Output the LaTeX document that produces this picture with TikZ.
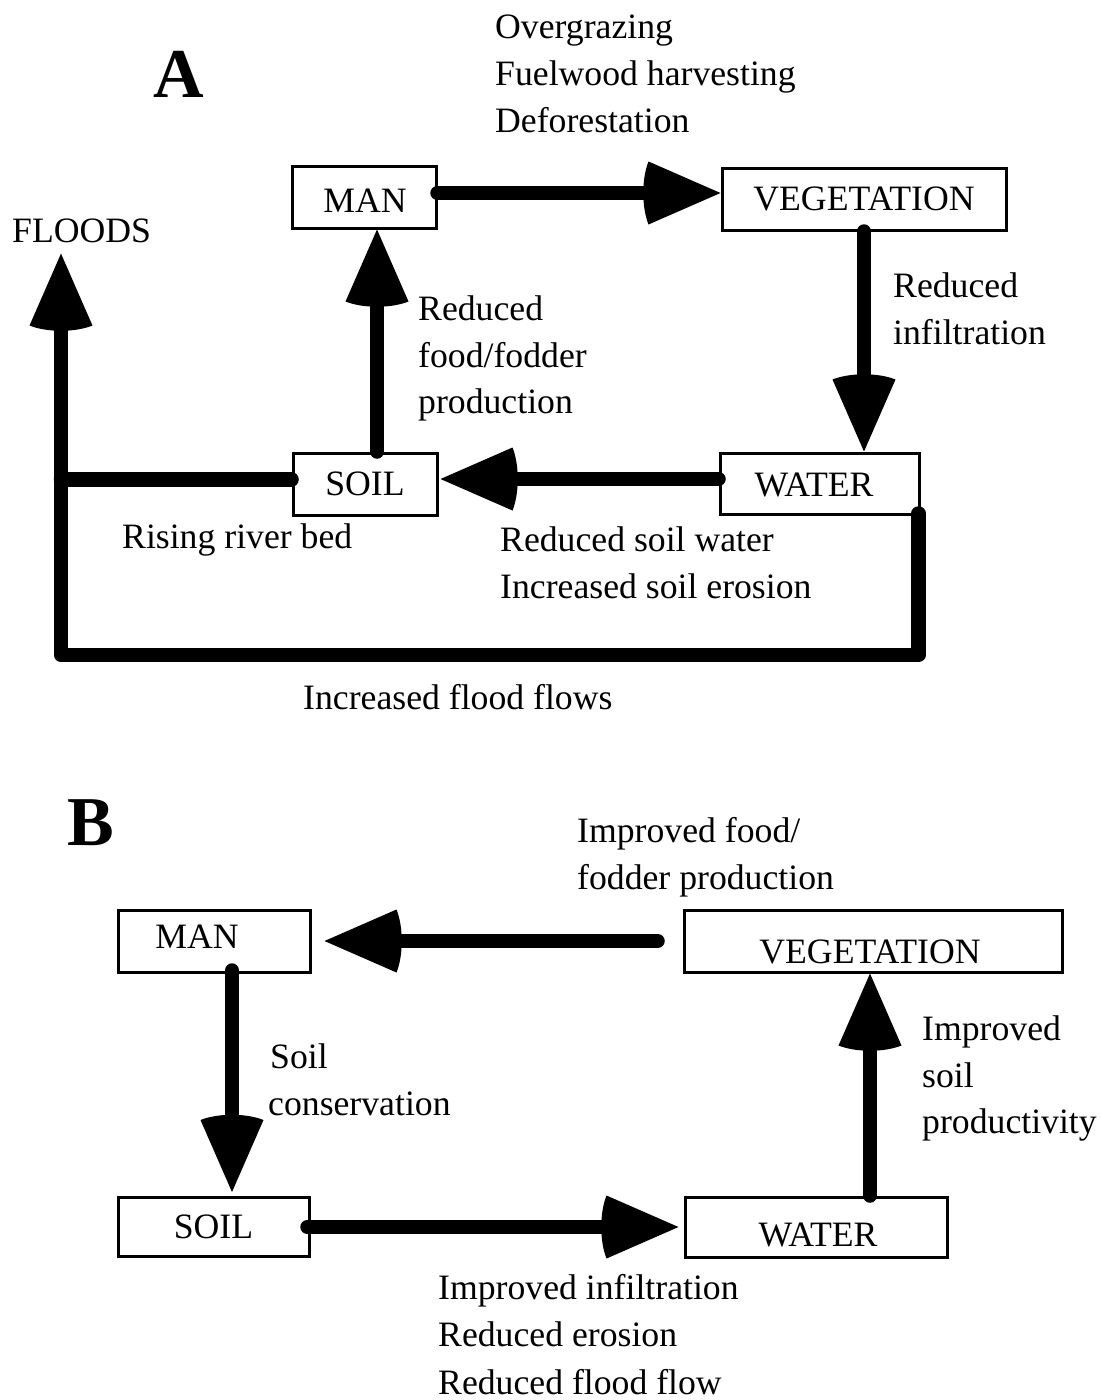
\documentclass[tikz,border=0pt]{standalone}
\usepackage{fontspec}
\setmainfont{Liberation Serif}
\usetikzlibrary{arrows.meta}
\pgfdeclarearrow{
  name=Fat,
  setup code={
    \pgfarrowssettipend{0pt}
    \pgfarrowssetbackend{-78pt}
    \pgfarrowssetlineend{-68pt}
  },
  drawing code={
    \pgfpathmoveto{\pgfqpoint{0pt}{0pt}}
    \pgfpathlineto{\pgfqpoint{-72pt}{31.5pt}}
    \pgfpathcurveto{\pgfqpoint{-79pt}{14pt}}{\pgfqpoint{-79pt}{-14pt}}{\pgfqpoint{-72pt}{-31.5pt}}
    \pgfpathclose
    \pgfusepathqfill
  }
}
\begin{document}
\begin{tikzpicture}[x=1pt,y=-1pt,
  font=\fontsize{35.7}{47}\selectfont,
  box/.style={draw, line width=3pt, inner sep=0pt, rectangle},
  conn/.style={line width=14.5pt, line cap=round, line join=round, -{Fat}},
  plain/.style={line width=14.5pt, line cap=round},
  txt/.style={anchor=base west, inner sep=0pt},
  lbl/.style={inner sep=0pt},
  ttl/.style={font=\fontsize{70}{80}\selectfont\bfseries, inner sep=0pt}]
\useasboundingbox (0,0) rectangle (1101,1400);

% ---------- Panel A ----------
\node[ttl, anchor=base] (tA) at (178.5,97) {A};
\node[box, minimum width=144pt, minimum height=62pt] (manA) at (364,197) {};
\node[lbl] (manAt) at (365,201) {MAN};
\node[box, minimum width=284pt, minimum height=62pt] (vegA) at (864,199) {VEGETATION};
\node[box, minimum width=199pt, minimum height=61pt] (waterA) at (819.5,483.5) {};
\node[lbl] (waterAt) at (814,485) {WATER};
\node[box, minimum width=144pt, minimum height=62pt] (soilA) at (365,484) {SOIL};
\node[txt] (floods) at (12,242) {FLOODS};
\coordinate (cBL) at (61,655);

\node[txt] (a1) at (495,38) {Overgrazing};
\node[txt] (a2) at (495,85) {Fuelwood harvesting};
\node[txt] (a3) at (495,132) {Deforestation};
\node[txt] (a4) at (893,297) {Reduced};
\node[txt] (a5) at (893,344) {infiltration};
\node[txt] (a6) at (418,320) {Reduced};
\node[txt] (a7) at (418,367) {food/fodder};
\node[txt] (a8) at (418,413) {production};
\node[txt] (a9) at (500,551) {Reduced soil water};
\node[txt] (a10) at (500,598) {Increased soil erosion};
\node[txt] (a11) at (122,548) {Rising river bed};
\node[txt] (a12) at (303,709) {Increased flood flows};

\draw[conn] ([yshift=4pt]manA.east) -- ([yshift=4pt]manA.east -| vegA.west);
\draw[conn] (vegA.south) -- (vegA.south |- waterA.north);
\draw[conn, shorten >=2pt] ([yshift=4.5pt]waterA.west) -- ([yshift=4.5pt]waterA.west -| soilA.east);
\draw[conn] ([xshift=12pt]soilA.north) -- ([xshift=12pt]soilA.north |- manA.south);
\draw[conn, shorten >=11pt] ([xshift=-2pt,yshift=2pt]waterA.south east) |- (cBL) -- (cBL |- floods.south);
\draw[plain] ([yshift=4.5pt]soilA.west) -- ([yshift=4.5pt]soilA.west -| cBL);

% ---------- Panel B ----------
\node[ttl, anchor=base west] (tB) at (67,845) {B};
\node[box, minimum width=192pt, minimum height=62pt] (manB) at (214,941) {};
\node[lbl] (manBt) at (197,936.5) {MAN};
\node[box, minimum width=378pt, minimum height=62pt] (vegB) at (873,941) {};
\node[lbl] (vegBt) at (870,952) {VEGETATION};
\node[box, minimum width=191pt, minimum height=59pt] (soilB) at (213.5,1227) {SOIL};
\node[box, minimum width=262pt, minimum height=60pt] (waterB) at (816,1227) {};
\node[lbl] (waterBt) at (818,1235) {WATER};

\node[txt] (b1) at (577,842) {Improved food/};
\node[txt] (b2) at (577,889) {fodder production};
\node[txt] (b3) at (270,1068) {Soil};
\node[txt] (b4) at (268,1115) {conservation};
\node[txt] (b5) at (922,1040) {Improved};
\node[txt] (b6) at (922,1087) {soil};
\node[txt] (b7) at (922,1133) {productivity};
\node[txt] (b8) at (438,1299) {Improved infiltration};
\node[txt] (b9) at (438,1346) {Reduced erosion};
\node[txt] (b10) at (438,1394) {Reduced flood flow};

\draw[conn, shorten <=25pt, shorten >=13pt] (vegB.west) -- (vegB.west -| manB.east);
\draw[conn, shorten >=4pt] ([xshift=18pt,yshift=3pt]manB.south) -- ([xshift=18pt]manB.south |- soilB.north);
\draw[conn, shorten >=2pt] ([xshift=-3pt]soilB.east) -- ([xshift=-3pt]soilB.east -| waterB.west);
\draw[conn] ([xshift=54pt]waterB.north) -- ([xshift=54pt]waterB.north |- vegB.south);
\end{tikzpicture}
\end{document}
